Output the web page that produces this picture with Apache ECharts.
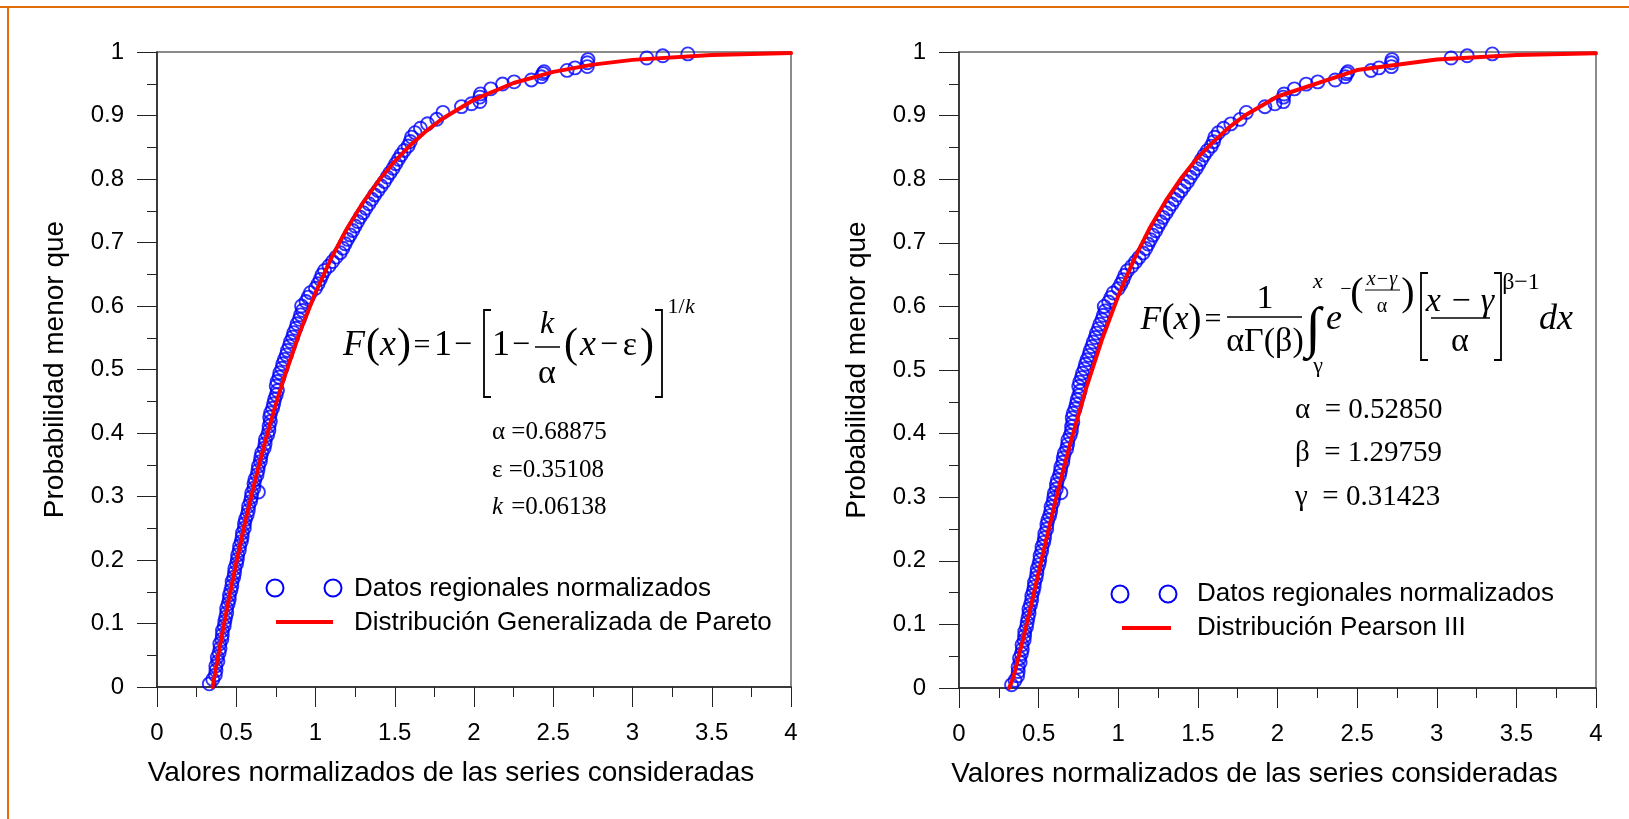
<!DOCTYPE html>
<html><head><meta charset="utf-8">
<script src="https://cdn.jsdelivr.net/npm/echarts@6/dist/echarts.min.js"></script>
<style>html,body{margin:0;padding:0;background:#fff}#c{width:1629px;height:819px}</style>
</head><body><div id="c"></div>
<script>
// ---- data ----
const ptsX = [0.330,0.352,0.368,0.372,0.371,0.384,0.380,0.392,0.398,0.396,0.409,0.412,0.413,0.424,0.428,0.433,0.440,0.439,0.449,0.456,
0.457,0.466,0.472,0.474,0.484,0.489,0.491,0.502,0.507,0.509,0.519,0.521,0.532,0.537,0.539,0.551,0.552,0.558,0.569,0.576,
0.578,0.590,0.595,0.598,0.640,0.611,0.612,0.618,0.631,0.637,0.640,0.652,0.655,0.661,0.676,0.682,0.684,0.698,0.706,0.707,
0.715,0.711,0.717,0.729,0.736,0.742,0.752,0.760,0.752,0.758,0.770,0.775,0.788,0.794,0.804,0.816,0.823,0.835,0.843,0.856,
0.863,0.876,0.884,0.898,0.906,0.918,0.912,0.940,0.954,0.968,1.000,1.016,1.030,1.041,1.057,1.085,1.108,1.130,1.156,1.173,
1.187,1.202,1.218,1.235,1.250,1.266,1.282,1.301,1.318,1.337,1.356,1.373,1.394,1.414,1.435,1.452,1.470,1.490,1.506,1.523,
1.540,1.560,1.584,1.598,1.606,1.628,1.662,1.707,1.765,1.804,
1.921,1.984,2.037,2.037,2.041,2.106,2.180,2.253,2.362,2.425,2.435,2.442,2.587,2.637,2.715,2.715,2.719,3.090,3.191,3.349];
const ptsY = [0.005,0.012,0.019,0.026,0.033,0.040,0.047,0.054,0.061,0.068,0.075,0.082,0.089,0.096,0.103,0.110,0.117,0.124,0.131,0.138,
0.145,0.152,0.159,0.166,0.173,0.180,0.187,0.194,0.201,0.208,0.215,0.222,0.229,0.236,0.243,0.250,0.257,0.264,0.271,0.278,
0.285,0.292,0.299,0.306,0.307,0.313,0.320,0.327,0.334,0.341,0.348,0.355,0.362,0.369,0.376,0.383,0.390,0.397,0.404,0.411,
0.418,0.425,0.432,0.439,0.446,0.453,0.460,0.467,0.474,0.481,0.488,0.495,0.502,0.509,0.516,0.523,0.530,0.537,0.544,0.551,
0.558,0.565,0.572,0.579,0.586,0.593,0.600,0.607,0.614,0.621,0.628,0.635,0.642,0.649,0.656,0.663,0.670,0.677,0.684,0.691,
0.698,0.705,0.712,0.719,0.726,0.733,0.740,0.747,0.754,0.761,0.768,0.775,0.782,0.789,0.796,0.803,0.810,0.817,0.824,0.831,
0.838,0.845,0.852,0.859,0.866,0.873,0.880,0.887,0.894,0.905,
0.914,0.9185,0.922,0.929,0.934,0.942,0.9495,0.953,0.956,0.961,0.966,0.969,0.971,0.975,0.977,0.983,0.988,0.9905,0.994,0.997];

const gpdX = [0.351,0.37,0.40,0.45,0.50,0.55,0.60,0.65,0.70,0.75,0.80,0.90,1.00,1.10,1.20,1.30,1.40,1.50,1.60,1.70,1.80,2.00,2.25,2.50,2.75,3.00,3.50,4.00];
const gpdY = [0.000,0.0271,0.0687,0.1343,0.1956,0.2528,0.3061,0.3559,0.4023,0.4456,0.4858,0.5583,0.6211,0.6755,0.7224,0.7629,0.7979,0.8279,0.8537,0.8759,0.8949,0.9249,0.9512,0.9687,0.9801,0.9876,0.9953,0.9984];

const p3X = [0.314,0.33,0.35,0.40,0.45,0.50,0.55,0.60,0.65,0.70,0.80,0.90,1.00,1.10,1.20,1.30,1.40,1.50,1.60,1.70,1.80,2.00,2.50,3.00,3.50,4.00];
const p3Y = [0.000,0.0089,0.0251,0.0741,0.1276,0.1821,0.2359,0.2880,0.3380,0.3856,0.4728,0.5496,0.6166,0.6744,0.7241,0.7666,0.8031,0.8344,0.8595,0.8824,0.9010,0.9300,0.9716,0.9882,0.9952,0.9981];

const xLabel = 'Valores normalizados de las series consideradas';
const yLabel = 'Probabilidad menor que';
const legPts = 'Datos regionales normalizados';
const legGpd = 'Distribución Generalizada de Pareto';
const legP3 = 'Distribución Pearson III';

// ---- chart ----
const zip = (a, b) => a.slice(0, Math.min(a.length, b.length)).map((v, i) => [v, b[i]]);
const SANS = "'Liberation Sans', Arial, sans-serif";
const SERIF = "'Liberation Serif', 'Times New Roman', serif";
const AX = '#222';

function xAxisCfg(gi) {
  return {
    gridIndex: gi, type: 'value', min: 0, max: 4, interval: 0.5,
    name: xLabel, nameLocation: 'middle', nameGap: 72,
    nameTextStyle: { fontFamily: SANS, fontSize: 28, color: '#000', padding: [0, 46, 0, 0] },
    axisLine: { show: true, onZero: false, lineStyle: { color: AX, width: 1.5 } },
    axisTick: { show: true, length: 20, lineStyle: { color: AX, width: 1 } },
    minorTick: { show: true, splitNumber: 2, length: 10, lineStyle: { color: AX, width: 1 } },
    axisLabel: { fontFamily: SANS, fontSize: 24, color: '#000', margin: 34 },
    splitLine: { show: false }, minorSplitLine: { show: false }
  };
}
function yAxisCfg(gi) {
  return {
    gridIndex: gi, type: 'value', min: 0, max: 1, interval: 0.1,
    name: yLabel, nameLocation: 'middle', nameGap: 88,
    nameTextStyle: { fontFamily: SANS, fontSize: 28, color: '#000' },
    axisLine: { show: true, onZero: false, lineStyle: { color: AX, width: 1.5 } },
    axisTick: { show: true, length: 20, lineStyle: { color: AX, width: 1 } },
    minorTick: { show: true, splitNumber: 2, length: 10, lineStyle: { color: AX, width: 1 } },
    axisLabel: { fontFamily: SANS, fontSize: 24, color: '#000', margin: 33 },
    splitLine: { show: false }, minorSplitLine: { show: false }
  };
}
function scatterS(i) {
  return { type: 'scatter', xAxisIndex: i, yAxisIndex: i, data: zip(ptsX, ptsY), symbol: 'circle', symbolSize: 13,
    itemStyle: { color: 'rgba(0,0,0,0)', borderColor: '#0000ff', borderWidth: 1.9 }, z: 2, silent: true };
}
function lineS(i, xs, ys) {
  return { type: 'line', xAxisIndex: i, yAxisIndex: i, data: zip(xs, ys), smooth: false,
    showSymbol: false, symbol: 'none', lineStyle: { color: '#ff0000', width: 4, join: 'round', cap: 'round' }, z: 3, silent: true };
}

function txt(x, y, t, size, o) {
  o = o || {};
  const al = o.align || 'center';
  return { type: 'text', x: x, y: y, silent: true, z: 100,
    style: { text: t, fontFamily: o.family || SERIF, fontSize: size, fontStyle: o.italic ? 'italic' : 'normal',
      fill: '#000', align: al, verticalAlign: 'middle', textAlign: al, textVerticalAlign: 'middle' } };
}
function ln(x1, y1, x2, y2, c, w) {
  return { type: 'line', silent: true, z: 100, shape: { x1: x1, y1: y1, x2: x2, y2: y2 }, style: { stroke: c || '#000', lineWidth: w || 1.5 } };
}
function pl(points, w) {
  return { type: 'polyline', silent: true, z: 100, shape: { points: points }, style: { stroke: '#000', fill: null, lineWidth: w || 1.5 } };
}
function circ(cx, cy) {
  return { type: 'circle', silent: true, z: 100, shape: { cx: cx, cy: cy, r: 8.5 }, style: { stroke: '#0000ff', fill: null, lineWidth: 2 } };
}

const g = [];
// orange frame
g.push(ln(0, 7, 1629, 7, '#E26B0A', 2));
g.push(ln(8, 7, 8, 819, '#E26B0A', 2));
// left legend
g.push(circ(275, 588), circ(333, 588));
g.push(txt(354, 589, legPts, 26, { family: SANS, align: 'left' }));
g.push(ln(276, 622, 333, 622, '#ff0000', 4));
g.push(txt(354, 623, legGpd, 26, { family: SANS, align: 'left' }));
// right legend
g.push(circ(1120, 594), circ(1168, 594));
g.push(txt(1197, 594, legPts, 26, { family: SANS, align: 'left' }));
g.push(ln(1122, 628, 1171, 628, '#ff0000', 4));
g.push(txt(1197, 628, legP3, 26, { family: SANS, align: 'left' }));

// left formula
const fy = 346;
g.push(txt(354, fy, 'F', 36, { italic: true }));
g.push(txt(373, fy, '(', 42));
g.push(txt(388, fy, 'x', 36, { italic: true }));
g.push(txt(404, fy, ')', 42));
g.push(txt(422, fy, '=', 30));
g.push(txt(443, fy, '1', 36));
g.push(txt(463, fy, '−', 32));
g.push(pl([[491, 310], [484, 310], [484, 397], [491, 397]], 1.8));
g.push(txt(501, fy, '1', 36));
g.push(txt(521, fy, '−', 32));
g.push(txt(547, 325, 'k', 32, { italic: true }));
g.push(ln(535, 347, 560, 347, '#000', 1.5));
g.push(txt(547, 374, 'α', 34));
g.push(txt(571, fy, '(', 42));
g.push(txt(588, fy, 'x', 36, { italic: true }));
g.push(txt(609, fy, '−', 32));
g.push(txt(630, fy, 'ε', 34));
g.push(txt(647, fy, ')', 42));
g.push(pl([[655, 310], [662, 310], [662, 397], [655, 397]], 1.8));
g.push(txt(676, 307, '1/', 22));
g.push(txt(690, 307, 'k', 22, { italic: true }));
// left parameters
g.push(txt(492, 432, 'α =0.68875', 25, { align: 'left' }));
g.push(txt(492, 470, 'ε =0.35108', 25, { align: 'left' }));
g.push(txt(492, 507, 'k', 25, { align: 'left', italic: true }));
g.push(txt(505, 507, ' =0.06138', 25, { align: 'left' }));

// right formula
const ry = 320;
g.push(txt(1151, ry, 'F', 34, { italic: true }));
g.push(txt(1168, ry, '(', 40));
g.push(txt(1181, ry, 'x', 34, { italic: true }));
g.push(txt(1195, ry, ')', 40));
g.push(txt(1213, ry, '=', 30));
g.push(txt(1265, 299, '1', 34));
g.push(ln(1227, 317, 1302, 317, '#000', 1.5));
g.push(txt(1265, 342, 'αΓ(β)', 34));
g.push(txt(1313, 331, '∫', 56));
g.push(txt(1318, 282, 'x', 22, { italic: true }));
g.push(txt(1318, 366, 'γ', 22));
g.push(txt(1334, ry, 'e', 36, { italic: true }));
g.push(txt(1346, 290, '−', 20));
g.push(txt(1357, 294, '(', 40));
g.push(txt(1382, 280, 'x−γ', 20, { italic: true }));
g.push(ln(1365, 290, 1400, 290, '#000', 1.2));
g.push(txt(1382, 307, 'α', 20));
g.push(txt(1408, 294, ')', 40));
g.push(pl([[1428, 273], [1421, 273], [1421, 360], [1428, 360]], 1.8));
g.push(txt(1460, 302, 'x − γ', 34, { italic: true }));
g.push(ln(1431, 318, 1490, 318, '#000', 1.5));
g.push(txt(1460, 342, 'α', 34));
g.push(pl([[1494, 273], [1501, 273], [1501, 360], [1494, 360]], 1.8));
g.push(txt(1521, 283, 'β−1', 24));
g.push(txt(1556, ry, 'dx', 36, { italic: true }));
// right parameters
g.push(txt(1295, 410, 'α  = 0.52850', 29, { align: 'left' }));
g.push(txt(1295, 453, 'β  = 1.29759', 29, { align: 'left' }));
g.push(txt(1295, 497, 'γ  = 0.31423', 29, { align: 'left' }));

const chart = echarts.init(document.getElementById('c'), null, { renderer: 'canvas' });
chart.setOption({
  animation: false,
  backgroundColor: '#fff',
  grid: [
    { left: 157, top: 52, width: 634, height: 635, show: true, borderColor: '#666', borderWidth: 1.5, backgroundColor: 'rgba(0,0,0,0)' },
    { left: 959, top: 52, width: 637, height: 636, show: true, borderColor: '#666', borderWidth: 1.5, backgroundColor: 'rgba(0,0,0,0)' }
  ],
  xAxis: [xAxisCfg(0), xAxisCfg(1)],
  yAxis: [yAxisCfg(0), yAxisCfg(1)],
  series: [scatterS(0), lineS(0, gpdX, gpdY), scatterS(1), lineS(1, p3X, p3Y)],
  graphic: { elements: g }
});
</script></body></html>
